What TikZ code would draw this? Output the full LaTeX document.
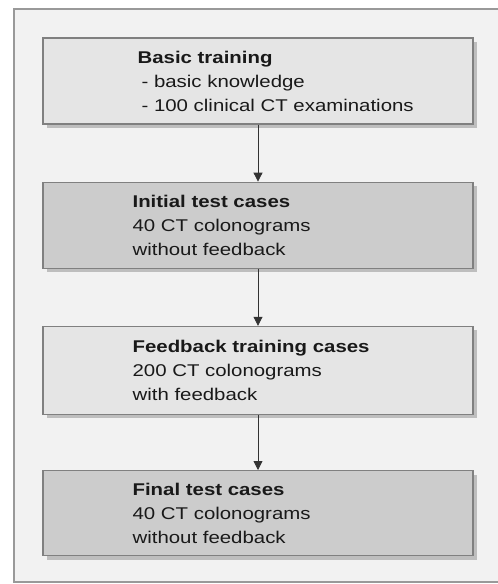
\documentclass[tikz,border=0pt]{standalone}
\usepackage{fontspec}
\setmainfont[FakeStretch=1.2]{Liberation Sans}
\usetikzlibrary{arrows.meta,positioning,shadows}
\definecolor{framebg}{gray}{0.95}
\definecolor{frameline}{gray}{0.6}
\definecolor{boxline}{gray}{0.5}
\definecolor{lightbox}{gray}{0.9}
\definecolor{darkbox}{gray}{0.8}
\definecolor{textgray}{gray}{0.1}
\tikzset{
  stage/.style={
    draw=boxline, line width=1.2pt,
    minimum width=430pt, minimum height=86pt,
    drop shadow={shadow xshift=4pt, shadow yshift=-4pt, fill=gray!55, opacity=0.9},
  },
  stagetext/.style={
    anchor=west, align=left, inner sep=0pt, text=textgray,
    font=\fontsize{17}{24}\selectfont,
  },
  flow/.style={
    draw=black!80, line width=0.8pt,
    -{Triangle[width=9pt, length=9pt]},
  },
}

\begin{document}
\begin{tikzpicture}[x=1pt, y=-1pt, node distance=57pt]
    \useasboundingbox (0,0) rectangle (498,584) ;
    \clip (0,0) rectangle (498,584) ;
    \draw [fill=framebg, draw=frameline, line width=1.5pt]
          (14,9) rectangle (510,582) ;

    % stages
    \node [stage, fill=lightbox] (basic) at (258,81) {} ;
    \node [stage, fill=darkbox, below=of basic] (initial) {} ;
    \node [stage, fill=lightbox, below=of initial, minimum height=88pt] (feedback) {} ;
    \node [stage, fill=darkbox, below=55pt of feedback, minimum height=85pt] (final) {} ;

    \node [stagetext, right=95pt of basic.west] (basictext)
          {\textbf{Basic training}\\
           \hspace*{4pt}- basic knowledge\\
           \hspace*{4pt}- 100 clinical CT examinations} ;
    \node [stagetext, right=90pt of initial.west] (initialtext)
          {\textbf{Initial test cases}\\
           40 CT colonograms\\
           without feedback} ;
    \node [stagetext, right=90pt of feedback.west] (feedbacktext)
          {\textbf{Feedback training cases}\\
           200 CT colonograms\\
           with feedback} ;
    \node [stagetext, right=90pt of final.west] (finaltext)
          {\textbf{Final test cases}\\
           40 CT colonograms\\
           without feedback} ;

    % arrows
    \draw [flow] (basic) -- (initial) ;
    \draw [flow] (initial) -- (feedback) ;
    \draw [flow] (feedback) -- (final) ;
  \end{tikzpicture}
\end{document}
